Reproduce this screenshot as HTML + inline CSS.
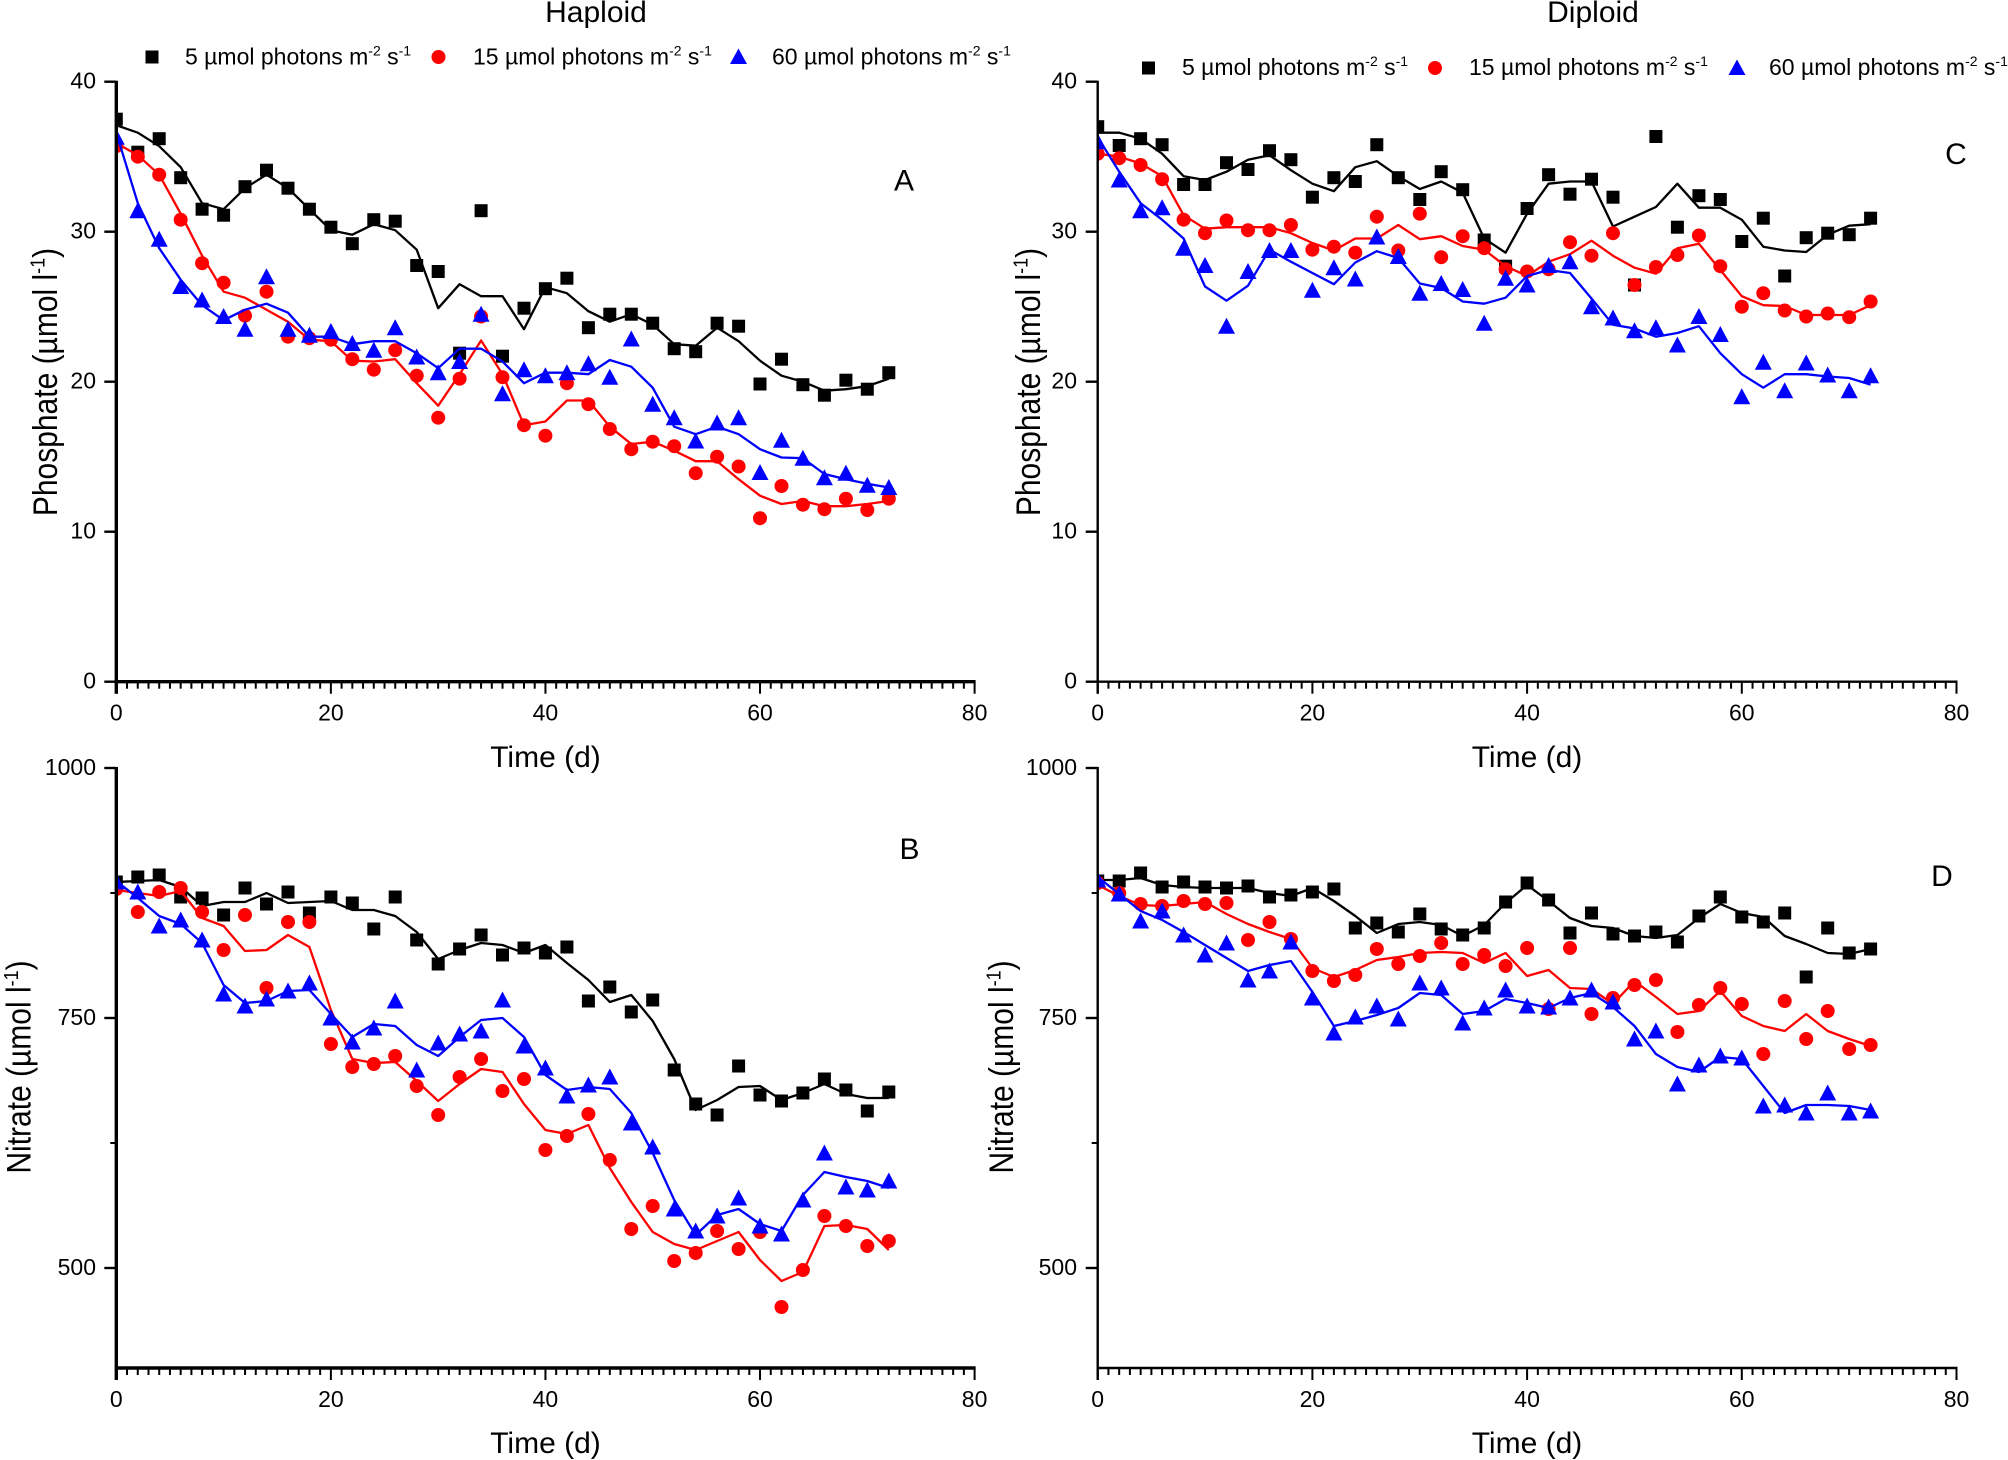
<!DOCTYPE html>
<html lang="en">
<head>
<meta charset="utf-8">
<title>Phosphate and nitrate over time, haploid and diploid</title>
<style>
html,body{margin:0;padding:0;background:#fff;}
svg{display:block;}
text{font-family:"Liberation Sans",sans-serif;fill:#000;}
.tick{font-size:23px;}
.leg{font-size:23px;}
.ttl{font-size:30px;}
.ytl{font-size:30px;}
.let{font-size:30px;}
</style>
</head>
<body>
<svg id="figure" xmlns="http://www.w3.org/2000/svg" width="2008" height="1460" viewBox="0 0 2008 1460">
<defs>
<clipPath id="clip-left"><rect x="116.3" y="0" width="900" height="1460"/></clipPath>
<clipPath id="clip-right"><rect x="1097.7" y="0" width="900" height="1460"/></clipPath>
</defs>
<rect x="0" y="0" width="2008" height="1460" fill="#fff"/>

<text class="ttl" text-anchor="middle" x="596" y="22">Haploid</text>
<text class="ttl" text-anchor="middle" x="1593" y="22">Diploid</text>

<g>
<rect x="145.5" y="50.5" width="13" height="13" fill="#000"/>
<text class="leg" x="185" y="64.3">5 µmol photons m<tspan font-size="14" dy="-9">-2</tspan><tspan dy="9"> s</tspan><tspan font-size="14" dy="-9">-1</tspan></text>
<circle cx="438.5" cy="57" r="7" fill="#ff0000"/>
<text class="leg" x="473" y="64.3">15 µmol photons m<tspan font-size="14" dy="-9">-2</tspan><tspan dy="9"> s</tspan><tspan font-size="14" dy="-9">-1</tspan></text>
<polygon points="738.5,48.5 747,64 730,64" fill="#0000ff"/>
<text class="leg" x="772" y="64.3">60 µmol photons m<tspan font-size="14" dy="-9">-2</tspan><tspan dy="9"> s</tspan><tspan font-size="14" dy="-9">-1</tspan></text>
</g>

<g>
<rect x="1142" y="61.5" width="13" height="13" fill="#000"/>
<text class="leg" x="1182" y="75">5 µmol photons m<tspan font-size="14" dy="-9">-2</tspan><tspan dy="9"> s</tspan><tspan font-size="14" dy="-9">-1</tspan></text>
<circle cx="1435" cy="68" r="7" fill="#ff0000"/>
<text class="leg" x="1469" y="75">15 µmol photons m<tspan font-size="14" dy="-9">-2</tspan><tspan dy="9"> s</tspan><tspan font-size="14" dy="-9">-1</tspan></text>
<polygon points="1737,59.5 1745.5,75 1728.5,75" fill="#0000ff"/>
<text class="leg" x="1769" y="75">60 µmol photons m<tspan font-size="14" dy="-9">-2</tspan><tspan dy="9"> s</tspan><tspan font-size="14" dy="-9">-1</tspan></text>
</g>

<text class="ytl" text-anchor="middle" transform="translate(57,382) scale(1.15,1) rotate(-90)">Phosphate (µmol l<tspan font-size="18" dy="-11">-1</tspan><tspan dy="11">)</tspan></text>
<text class="ytl" text-anchor="middle" transform="translate(1040,382) scale(1.15,1) rotate(-90)">Phosphate (µmol l<tspan font-size="18" dy="-11">-1</tspan><tspan dy="11">)</tspan></text>
<text class="ytl" text-anchor="middle" transform="translate(30.5,1067) scale(1.15,1) rotate(-90)">Nitrate (µmol l<tspan font-size="18" dy="-11">-1</tspan><tspan dy="11">)</tspan></text>
<text class="ytl" text-anchor="middle" transform="translate(1013,1067) scale(1.15,1) rotate(-90)">Nitrate (µmol l<tspan font-size="18" dy="-11">-1</tspan><tspan dy="11">)</tspan></text>

<text class="ttl" text-anchor="middle" x="545.5" y="767">Time (d)</text>
<text class="ttl" text-anchor="middle" x="1527" y="767">Time (d)</text>
<text class="ttl" text-anchor="middle" x="545.5" y="1453">Time (d)</text>
<text class="ttl" text-anchor="middle" x="1527" y="1453">Time (d)</text>

<text class="let" text-anchor="middle" x="904" y="190.5">A</text>
<text class="let" text-anchor="middle" x="909.5" y="859">B</text>
<text class="let" text-anchor="middle" x="1956" y="164">C</text>
<text class="let" text-anchor="middle" x="1942" y="886">D</text>

<g id="panel-a"></g>
<g id="panel-b"></g>
<g id="panel-c"></g>
<g id="panel-d"></g>
</svg>

<script>
// Shared categories and tick labels
var days = [0,2,4,6,8,10,12,14,16,18,20,22,24,26,28,30,32,34,36,38,40,42,44,46,48,50,52,54,56,58,60,62,64,66,68,70,72];
var xTickLabels = [0,20,40,60,80];
var xMinorTicks = [1,2,3,4,5,6,7,8,9,10,11,12,13,14,15,16,17,18,19,21,22,23,24,25,26,27,28,29,30,31,32,33,34,35,36,37,38,39,41,42,43,44,45,46,47,48,49,50,51,52,53,54,55,56,57,58,59,61,62,63,64,65,66,67,68,69,70,71,72,73,74,75,76,77,78,79];
var phosphateTickLabels = [0,10,20,30,40];
var nitrateTickLabels = [500,750,1000];
var nitrateMinorTicks = [625,875];

// Panel A: haploid phosphate
var aSquares = [37.5,35.3,36.2,33.6,31.5,31.1,33.0,34.1,32.9,31.5,30.3,29.2,30.8,30.7,27.75,27.35,21.9,31.4,21.7,24.9,26.2,26.9,23.6,24.5,24.5,23.9,22.2,22.0,23.9,23.7,19.85,21.5,19.8,19.1,20.1,19.5,20.6];
var aSquaresLine = [37.1,36.6,35.7,34.3,31.9,31.5,32.9,33.8,32.9,31.5,30.1,29.8,30.5,30.1,28.8,24.9,26.5,25.7,25.7,23.5,26.3,25.9,24.7,24.0,24.5,23.8,22.5,22.4,23.6,22.7,21.4,20.4,20.0,19.4,19.5,19.7,20.2];
var aCircles = [35.7,35.0,33.8,30.8,27.9,26.6,24.4,26.0,23.0,22.9,22.8,21.5,20.8,22.1,20.4,17.6,20.2,24.35,20.3,17.1,16.4,19.9,18.5,16.85,15.5,16.0,15.7,13.9,15.0,14.35,10.9,13.05,11.8,11.5,12.2,11.45,12.2];
var aCirclesLine = [35.9,35.1,33.8,31.2,28.4,26.0,25.6,24.8,24.0,22.8,22.7,21.4,21.35,21.5,19.9,18.4,20.5,22.75,20.5,17.1,17.35,18.75,18.75,17.0,15.85,16.0,15.4,14.7,14.7,13.5,12.4,11.85,12.05,11.7,11.7,11.85,12.05];
var aTriangles = [36.3,31.4,29.5,26.35,25.45,24.35,23.5,27.0,23.5,23.1,23.35,22.55,22.1,23.6,21.65,20.6,21.35,24.5,19.2,20.8,20.4,20.6,21.2,20.3,22.85,18.5,17.6,16.05,17.25,17.6,13.95,16.1,14.9,13.6,13.9,13.1,12.95];
var aTrianglesLine = [36.6,31.9,28.9,26.8,25.1,24.1,24.8,25.2,24.6,23.0,23.0,22.5,22.7,22.7,21.9,20.9,22.2,22.2,21.35,19.9,20.6,20.6,20.5,21.45,21.0,19.6,17.0,16.5,17.0,16.5,15.5,14.95,14.9,13.85,13.5,13.2,12.95];

// Panel B: haploid nitrate
var bSquares = [886,891,893,871,870,853,880,864,876,855,871,865,839,871,828,804,819,833,813,820,815,821,767,781,756,768,698,664,653,702,673,667,675,689,678,657,676];
var bSquaresLine = [886,887,888,881,862,866,866,875,865,866,867,858,858,852,836,809,818,825,823,815,823,805,788,766,773,747,709,658,668,681,682,668,675,684,674,670,670];
var bCircles = [879,856,876,880,856,818,853,780,846,846,724,701,704,712,682,653,691,709,677,689,618,632,654,608,539,562,507,515,537,519,536,461,498,552,542,522,527];
var bCirclesLine = [878,875,872,877,850,842,817,818,833,821,758,709,705,706,687,667,684,699,696,664,638,634,643,600,566,536,524,518,527,536,508,487,496,542,543,539,518];
var bTriangles = [886,876,842,848,828,774,762,769,777,785,750,726,740,767,698,725,734,737,768,722,700,672,683,691,645,621,559,537,552,570,542,534,568,615,581,578,587];
var bTrianglesLine = [887,870,852,844,825,783,765,767,777,778,754,731,744,742,723,712,731,748,750,731,693,678,681,679,655,615,568,533,553,559,544,537,573,596,591,587,580];

// Panel C: diploid phosphate
var cSquares = [37.0,35.75,36.2,35.8,33.15,33.15,34.6,34.15,35.4,34.8,32.3,33.6,33.35,35.8,33.6,32.15,34.0,32.8,29.45,27.7,31.55,33.8,32.5,33.5,32.3,26.45,36.35,30.3,32.4,32.15,29.35,30.9,27.05,29.6,29.9,29.8,30.9];
var cSquaresLine = [36.6,36.6,36.2,35.2,33.7,33.45,34.0,34.8,35.1,34.1,33.2,32.7,34.3,34.7,33.7,32.85,33.35,32.6,29.55,28.6,31.2,33.2,33.35,33.35,30.35,31.0,31.65,33.2,31.6,31.6,30.8,29.0,28.75,28.65,29.8,30.4,30.5];
var cCircles = [35.2,34.9,34.45,33.5,30.8,29.9,30.75,30.1,30.1,30.45,28.8,29.0,28.6,31.0,28.75,31.2,28.3,29.7,28.9,27.5,27.35,27.5,29.3,28.4,29.9,26.45,27.65,28.45,29.75,27.7,25.0,25.9,24.75,24.35,24.55,24.3,25.35];
var cCirclesLine = [35.2,35.0,34.55,33.7,31.1,30.2,30.3,30.3,30.3,29.9,29.25,28.75,29.55,29.55,30.45,29.5,29.7,29.05,28.8,27.7,27.05,28.0,28.5,29.4,28.4,27.6,27.2,28.9,29.2,27.45,25.7,25.1,25.05,24.45,24.45,24.45,25.1];
var cTriangles = [36.0,33.45,31.4,31.6,28.9,27.75,23.7,27.35,28.75,28.75,26.1,27.6,26.85,29.65,28.35,25.9,26.55,26.15,23.9,26.9,26.45,27.75,28.0,25.0,24.25,23.4,23.6,22.45,24.35,23.15,19.0,21.3,19.4,21.25,20.45,19.4,20.4];
var cTrianglesLine = [36.3,34.0,31.9,30.8,29.55,26.35,25.4,26.4,28.8,28.0,27.25,26.5,27.95,28.7,28.25,26.55,26.25,25.35,25.2,25.6,27.05,27.45,27.25,25.55,23.8,23.55,23.0,23.25,23.7,21.9,20.5,19.6,20.5,20.5,20.35,20.25,19.8];

// Panel D: diploid nitrate
var dSquares = [887,887,895,881,886,881,880,882,871,873,876,879,840,845,836,854,839,833,840,866,885,868,835,855,834,832,836,826,852,871,851,846,855,791,840,815,819];
var dSquaresLine = [888,888,890,883,881,880,880,880,875,872,880,867,852,835,844,846,843,832,843,865,883,867,850,842,840,832,830,833,850,864,855,851,832,824,815,814,819];
var dCircles = [885,875,864,862,867,864,865,828,846,829,797,787,793,819,804,812,825,804,813,802,820,759,820,754,770,783,788,736,763,780,764,714,767,729,757,719,723];
var dCirclesLine = [883,872,863,862,864,866,854,844,836,829,800,791,798,808,811,815,816,815,805,815,792,798,780,779,764,787,771,754,757,777,752,742,737,754,737,729,722];
var dTriangles = [888,874,847,857,833,813,825,788,797,826,770,735,751,762,749,785,780,745,760,778,762,761,770,778,766,729,737,684,703,712,710,662,663,655,675,655,657];
var dTrianglesLine = [891,874,857,848,836,823,810,797,803,807,776,742,747,753,760,775,773,754,757,769,765,760,770,775,761,742,714,701,696,711,709,682,655,663,663,662,658];

var SVG_NS = 'http://www.w3.org/2000/svg';
var BLACK = '#000000', RED = '#ff0000', BLUE = '#0000ff';

function makeX(left, right) {
  return function (v) { return left + (right - left) * v / 80; };
}
function makeY(top, bottom, vmin, vmax) {
  return function (v) { return bottom - (bottom - top) * (v - vmin) / (vmax - vmin); };
}
function make(parent, tag) {
  var el = document.createElementNS(SVG_NS, tag);
  parent.appendChild(el);
  return el;
}
function drawLineSeries(group, values, xs, ys, color, name) {
  var el = make(group, 'polyline');
  
  
  var pts = [];
  for (var i = 0; i < values.length; i++) {
    pts.push(xs(days[i]).toFixed(1) + ',' + ys(values[i]).toFixed(1));
  }
  el.setAttribute('points', pts.join(' '));
  el.setAttribute('fill', 'none');
  el.setAttribute('stroke', color);
  el.setAttribute('stroke-width', '2.3');
  el.setAttribute('stroke-linejoin', 'round');
}
function drawSquares(group, values, xs, ys, name) {
  for (var i = 0; i < values.length; i++) {
    var el = make(group, 'rect');
    
    
    el.setAttribute('x', (xs(days[i]) - 6.5).toFixed(1));
    el.setAttribute('y', (ys(values[i]) - 6.5).toFixed(1));
    el.setAttribute('width', '13');
    el.setAttribute('height', '13');
    el.setAttribute('fill', BLACK);
  }
}
function drawCircles(group, values, xs, ys, name) {
  for (var i = 0; i < values.length; i++) {
    var el = make(group, 'circle');
    
    
    el.setAttribute('cx', xs(days[i]).toFixed(1));
    el.setAttribute('cy', ys(values[i]).toFixed(1));
    el.setAttribute('r', '7');
    el.setAttribute('fill', RED);
  }
}
function drawTriangles(group, values, xs, ys, name) {
  for (var i = 0; i < values.length; i++) {
    var el = make(group, 'polygon');
    
    
    var cx = xs(days[i]), cy = ys(values[i]);
    el.setAttribute('points', cx.toFixed(1) + ',' + (cy - 8.5).toFixed(1) + ' ' + (cx + 8.5).toFixed(1) + ',' + (cy + 7.5).toFixed(1) + ' ' + (cx - 8.5).toFixed(1) + ',' + (cy + 7.5).toFixed(1));
    el.setAttribute('fill', BLUE);
  }
}
function rule(group, x1, y1, x2, y2, width, name) {
  var el = make(group, 'line');
  
  
  el.setAttribute('x1', x1);
  el.setAttribute('y1', y1);
  el.setAttribute('x2', x2);
  el.setAttribute('y2', y2);
  el.setAttribute('stroke', BLACK);
  el.setAttribute('stroke-width', width);
  return el;
}
function label(group, x, y, anchor, content, name) {
  var el = make(group, 'text');
  
  
  el.setAttribute('class', 'tick');
  el.setAttribute('text-anchor', anchor);
  el.setAttribute('x', x);
  el.setAttribute('y', y);
  el.textContent = content;
  return el;
}
function drawAxes(group, xs, ys, top, bottom, left, right, yLabels, yMinor, axisWidth, labelRight) {
  var i;
  rule(group, left, top - 1, left, bottom + 12, axisWidth, 'y-axis-line');
  rule(group, left - 1, bottom, right + 1, bottom, axisWidth, 'x-axis-line');
  for (i = 0; i < xTickLabels.length; i++) {
    var tx = xs(xTickLabels[i]);
    rule(group, tx, bottom, tx, bottom + 12, 2, 'x-major-tick');
    label(group, tx, bottom + 39, 'middle', String(xTickLabels[i]), 'x-tick-label');
  }
  for (i = 0; i < xMinorTicks.length; i++) {
    var mx = xs(xMinorTicks[i]);
    rule(group, mx, bottom, mx, bottom + 7, 2, 'x-minor-tick');
  }
  for (i = 0; i < yLabels.length; i++) {
    var ty = ys(yLabels[i]);
    rule(group, left - 12, ty, left, ty, 2.4, 'y-major-tick');
    label(group, labelRight, ty + 6.8, 'end', String(yLabels[i]), 'y-tick-label');
  }
  for (i = 0; i < yMinor.length; i++) {
    var my = ys(yMinor[i]);
    rule(group, left - 6, my, left, my, 2, 'y-minor-tick');
  }
}
function drawPanel(id, clipId, xs, ys, top, bottom, left, right, yLabels, yMinor, axisWidth, labelRight, s, sl, c, cl, t, tl) {
  var panel = document.getElementById(id);
  var marks = make(panel, 'g');
  
  
  marks.setAttribute('clip-path', 'url(#' + clipId + ')');
  drawSquares(marks, s, xs, ys, 'square-5-umol');
  drawLineSeries(marks, sl, xs, ys, BLACK, 'trend-line-5-umol');
  drawCircles(marks, c, xs, ys, 'circle-15-umol');
  drawLineSeries(marks, cl, xs, ys, RED, 'trend-line-15-umol');
  drawTriangles(marks, t, xs, ys, 'triangle-60-umol');
  drawLineSeries(marks, tl, xs, ys, BLUE, 'trend-line-60-umol');
  drawAxes(panel, xs, ys, top, bottom, left, right, yLabels, yMinor, axisWidth, labelRight);
}

drawPanel('panel-a', 'clip-left', makeX(116.3, 974.6), makeY(81.7, 681.7, 0, 40), 81.7, 681.7, 116.3, 974.6, phosphateTickLabels, [], 3.4, 96,
  aSquares, aSquaresLine, aCircles, aCirclesLine, aTriangles, aTrianglesLine);
drawPanel('panel-b', 'clip-left', makeX(116.3, 974.6), makeY(768, 1368, 400, 1000), 768, 1368, 116.3, 974.6, nitrateTickLabels, nitrateMinorTicks, 3.4, 96,
  bSquares, bSquaresLine, bCircles, bCirclesLine, bTriangles, bTrianglesLine);
drawPanel('panel-c', 'clip-right', makeX(1097.7, 1956.5), makeY(81.7, 681.7, 0, 40), 81.7, 681.7, 1097.7, 1956.5, phosphateTickLabels, [], 2.4, 1077,
  cSquares, cSquaresLine, cCircles, cCirclesLine, cTriangles, cTrianglesLine);
drawPanel('panel-d', 'clip-right', makeX(1097.7, 1956.5), makeY(768, 1368, 400, 1000), 768, 1368, 1097.7, 1956.5, nitrateTickLabels, nitrateMinorTicks, 2.4, 1077,
  dSquares, dSquaresLine, dCircles, dCirclesLine, dTriangles, dTrianglesLine);
</script>
</body>
</html>
